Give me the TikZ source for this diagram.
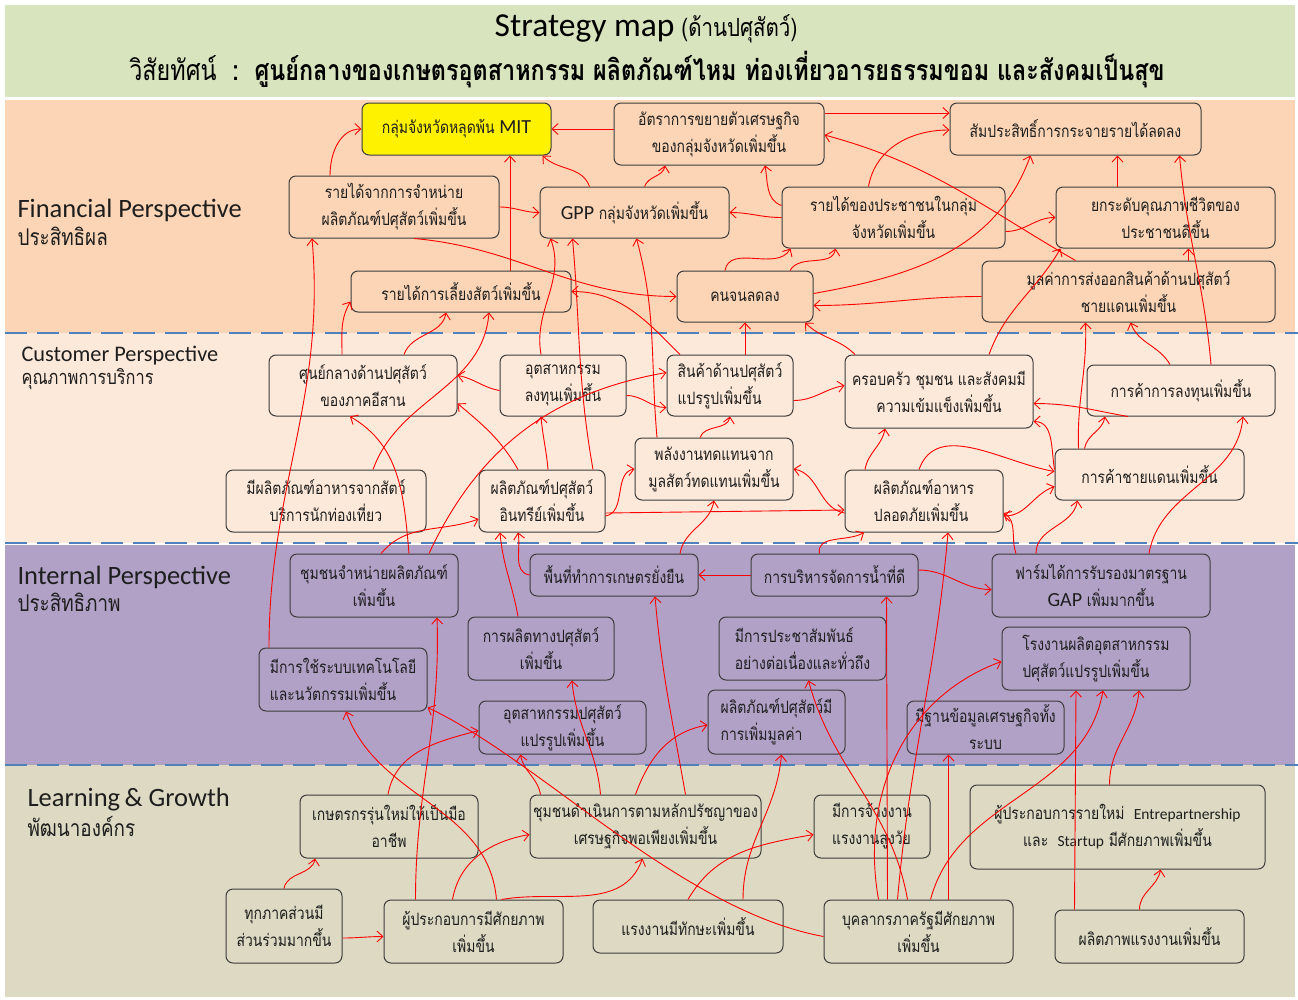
\documentclass[tikz,border=0pt]{standalone}
\usepackage{fontspec}
\setmainfont{Carlito}
\newfontfamily\thai[Script=Thai,FakeStretch=0.82]{Loma}
\newfontfamily\latn{Carlito}
\usetikzlibrary{arrows.meta}

\definecolor{titlefill}{RGB}{215,228,189}
\definecolor{finfill}{RGB}{251,213,181}
\definecolor{custfill}{RGB}{253,233,217}
\definecolor{intfill}{RGB}{178,161,199}
\definecolor{learnfill}{RGB}{221,217,195}
\definecolor{sepblue}{RGB}{79,129,189}
\definecolor{boxline}{RGB}{60,60,60}
\definecolor{boxtext}{RGB}{30,30,30}

\newcommand\latw[1]{{\latn\fontsize{20}{27}\selectfont #1}}
\newcommand\lats[1]{{\latn\fontsize{15.5}{27}\selectfont #1}}

\tikzset{
  box/.style={draw=boxline, line width=1pt, rounded corners=7pt, inner sep=2pt, align=center,
    text=boxtext, font=\thai\fontsize{17}{27}\selectfont},
  arr/.style={red, line width=0.9pt, -{Straight Barb[length=6pt,width=11pt]}},
  arrboth/.style={arr, {Straight Barb[length=6pt,width=11pt]}-{Straight Barb[length=6pt,width=11pt]}},
  sepline/.style={sepblue, line width=2.6pt, dash pattern=on 22pt off 10pt},
  perspective/.style={anchor=west, text=boxtext, align=left},
}

\begin{document}
\begin{tikzpicture}[x=1pt, y=1pt]
  \path[use as bounding box] (0,0) rectangle (1298,-999);

  % bands
  \fill[titlefill] (5,-5) rectangle (1295,-97);
  \fill[finfill] (5,-100) rectangle (1295,-333);
  \fill[custfill] (5,-333) rectangle (1295,-543);
  \fill[intfill] (5,-545) rectangle (1295,-765);
  \fill[learnfill] (5,-765) rectangle (1295,-997);
  \foreach \y in {333, 543, 765} {
    \draw[sepline] (5,-\y) -- (1298,-\y);
  }

  % title
  \node (title) at (646,-29) {{\latn\fontsize{33.5}{36}\selectfont Strategy map}\hspace{7pt}{\thai\fontsize{25}{28}\selectfont (ด้านปศุสัตว์)}};
  \node (vision) at (647,-70) {\thai\fontsize{28.5}{32}\selectfont วิสัยทัศน์\ \ \textbf{:\ \ ศูนย์กลางของเกษตรอุตสาหกรรม ผลิตภัณฑ์ไหม ท่องเที่ยวอารยธรรมขอม และสังคมเป็นสุข}};

  % perspective labels
  \node[perspective] (finlabel) at (14,-222) {{\fontsize{26.5}{32}\selectfont Financial Perspective}\\[4pt]{\thai\fontsize{23}{29}\selectfont ประสิทธิผล}};
  \node[perspective] (custlabel) at (18,-368) {{\fontsize{22.3}{27}\selectfont Customer Perspective}\\[3pt]{\thai\fontsize{20}{27}\selectfont คุณภาพการบริการ}};
  \node[perspective] (intlabel) at (14,-589) {{\fontsize{26.5}{30}\selectfont Internal Perspective}\\[3pt]{\thai\fontsize{23}{29}\selectfont ประสิทธิภาพ}};
  \node[perspective] (learnlabel) at (24,-812) {{\fontsize{26.5}{32}\selectfont Learning\,\& Growth}\\[4pt]{\thai\fontsize{23}{29}\selectfont พัฒนาองค์กร}};

  % financial boxes
  \node[box, fill=yellow, minimum width=189, minimum height=52] (F1) at (456.5,-129) {กลุ่มจังหวัดหลุดพ้น \latw{MIT}};
  \node[box, minimum width=210, minimum height=62] (F2) at (719,-134) {อัตราการขยายตัวเศรษฐกิจ\\ของกลุ่มจังหวัดเพิ่มขึ้น};
  \node[box, minimum width=251, minimum height=52] (F3) at (1075.5,-129) {สัมประสิทธิ์การกระจายรายได้ลดลง};
  \node[box, minimum width=210, minimum height=62] (F4) at (394,-207) {รายได้จากการจำหน่าย\\ผลิตภัณฑ์ปศุสัตว์เพิ่มขึ้น};
  \node[box, minimum width=189, minimum height=51] (F5) at (634.5,-212.5) {\latw{GPP} กลุ่มจังหวัดเพิ่มขึ้น};
  \node[box, minimum width=223, minimum height=61] (F6) at (893.5,-217.5) {รายได้ของประชาชนในกลุ่ม\\จังหวัดเพิ่มขึ้น};
  \node[box, minimum width=219, minimum height=61] (F7) at (1165.5,-217.5) {ยกระดับคุณภาพชีวิตของ\\ประชาชนดีขึ้น};
  \node[box, minimum width=220, minimum height=41] (F8) at (461,-291.5) {รายได้การเลี้ยงสัตว์เพิ่มขึ้น};
  \node[box, minimum width=136, minimum height=51] (F9) at (745,-296.5) {คนจนลดลง};
  \node[box, minimum width=293, minimum height=61] (F10) at (1128.5,-291.5) {มูลค่าการส่งออกสินค้าด้านปศุสัตว์\\ชายแดนเพิ่มขึ้น};

  % customer boxes
  \node[box, minimum width=188, minimum height=61] (C1) at (363,-385.5) {ศูนย์กลางด้านปศุสัตว์\\ของภาคอีสาน};
  \node[box, minimum width=126, minimum height=61] (C2) at (563,-385.5) {อุตสาหกรรม\\ลงทุนเพิ่มขึ้น};
  \node[box, align=left, minimum width=126, minimum height=61] (C3) at (730,-385.5) {สินค้าด้านปศุสัตว์\\แปรรูปเพิ่มขึ้น};
  \node[box, minimum width=188, minimum height=73] (C4) at (939,-391.5) {ครอบครัว ชุมชน และสังคมมี\\ความเข้มแข็งเพิ่มขึ้น};
  \node[box, minimum width=188, minimum height=51] (C5) at (1181,-390.5) {การค้าการลงทุนเพิ่มขึ้น};
  \node[box, minimum width=158, minimum height=62] (C6) at (714,-469) {พลังงานทดแทนจาก\\มูลสัตว์ทดแทนเพิ่มขึ้น};
  \node[box, minimum width=200, minimum height=62] (C7) at (326,-501) {มีผลิตภัณฑ์อาหารจากสัตว์\\บริการนักท่องเที่ยว};
  \node[box, minimum width=126, minimum height=62] (C8) at (542,-501) {ผลิตภัณฑ์ปศุสัตว์\\อินทรีย์เพิ่มขึ้น};
  \node[box, align=left, minimum width=158, minimum height=62] (C9) at (924,-501) {ผลิตภัณฑ์อาหาร\\ปลอดภัยเพิ่มขึ้น};
  \node[box, minimum width=189, minimum height=51] (C10) at (1149.5,-474.5) {การค้าชายแดนเพิ่มขึ้น};

  % internal boxes
  \node[box, minimum width=168, minimum height=63] (I1) at (374,-585.5) {ชุมชนจำหน่ายผลิตภัณฑ์\\เพิ่มขึ้น};
  \node[box, minimum width=168, minimum height=42] (I2) at (614,-575) {พื้นที่ทำการเกษตรยั่งยืน};
  \node[box, minimum width=167, minimum height=42] (I3) at (834.5,-575) {การบริหารจัดการน้ำที่ดี};
  \node[box, minimum width=218, minimum height=63] (I4) at (1101,-585.5) {ฟาร์มได้การรับรองมาตรฐาน\\\latw{GAP} เพิ่มมากขึ้น};
  \node[box, minimum width=146, minimum height=63] (I5) at (541,-648.5) {การผลิตทางปศุสัตว์\\เพิ่มขึ้น};
  \node[box, align=left, minimum width=167, minimum height=63] (I6) at (802.5,-648.5) {มีการประชาสัมพันธ์\\อย่างต่อเนื่องและทั่วถึง};
  \node[box, align=left, minimum width=188, minimum height=63] (I7) at (1096,-658.5) {โรงงานผลิตอุตสาหกรรม\\ปศุสัตว์แปรรูปเพิ่มขึ้น};
  \node[box, align=left, minimum width=168, minimum height=63] (I8) at (343,-679.5) {มีการใช้ระบบเทคโนโลยี\\และนวัตกรรมเพิ่มขึ้น};
  \node[box, minimum width=167, minimum height=53] (I9) at (562.5,-727.5) {อุตสาหกรรมปศุสัตว์\\แปรรูปเพิ่มขึ้น};
  \node[box, align=left, minimum width=137, minimum height=64] (I10) at (776.5,-722) {ผลิตภัณฑ์ปศุสัตว์มี\\การเพิ่มมูลค่า};
  \node[box, minimum width=157, minimum height=53] (I11) at (985.5,-727.5) {มีฐานข้อมูลเศรษฐกิจทั้ง\\ระบบ};

  % learning boxes
  \node[box, minimum width=178, minimum height=63] (L1) at (389,-826.5) {เกษตรกรรุ่นใหม่ให้เป็นมือ\\อาชีพ};
  \node[box, minimum width=231, minimum height=63] (L2) at (645.5,-826.5) {ชุมชนดำเนินการตามหลักปรัชญาของ\\เศรษฐกิจพอเพียงเพิ่มขึ้น};
  \node[box, align=left, minimum width=116, minimum height=63] (L3) at (872,-826.5) {มีการจ้างงาน\\แรงงานสูงวัย};
  \node[box, minimum width=295, minimum height=84] (L4) at (1117.5,-827) {ผู้ประกอบการรายใหม่\ \ \lats{Entrepartnership}\\และ\ \ \lats{Startup} มีศักยภาพเพิ่มขึ้น};
  \node[box, minimum width=116, minimum height=74] (L5) at (284,-926) {ทุกภาคส่วนมี\\ส่วนร่วมมากขึ้น};
  \node[box, minimum width=179, minimum height=63] (L6) at (473.5,-931.5) {ผู้ประกอบการมีศักยภาพ\\เพิ่มขึ้น};
  \node[box, minimum width=190, minimum height=53] (L7) at (688,-926.5) {แรงงานมีทักษะเพิ่มขึ้น};
  \node[box, minimum width=189, minimum height=63] (L8) at (918.5,-931.5) {บุคลากรภาครัฐมีศักยภาพ\\เพิ่มขึ้น};
  \node[box, minimum width=189, minimum height=53] (L9) at (1149.5,-936.5) {ผลิตภาพแรงงานเพิ่มขึ้น};

  % financial links
  \draw[arr] (F2.west |- F1.east) -- (F1.east);
  \draw[arr] ([xshift=-64]F4.north) to[out=90,in=180] (F1.west);
  \draw[arr] (F4.east) to[out=0,in=180] (F5.west);
  \draw[arr] ([xshift=49]F8.north) -- ([xshift=53.5]F1.south);
  \draw[arr] ([xshift=-45]F5.north) to[out=110,in=-45] ([xshift=86]F1.south);
  \draw[arr] ([xshift=10]F5.north) to[out=70,in=-100] ([xshift=-54]F2.south);
  \draw[arr] (F6.west) to[out=180,in=0] (F5.east);
  \draw[arr] ([yshift=12]F6.west) to[out=160,in=-80] ([xshift=46]F2.south);
  \draw[arr] ([yshift=21]F2.east) -- ([yshift=16]F3.west);
  \draw[arr] ([xshift=-25]F6.north) to[out=80,in=180] ([yshift=-1]F3.west);
  \draw[arr] ([xshift=-53]F10.north) to[out=150,in=-15] ([yshift=-1]F2.east);
  \draw[arr] ([yshift=3]F9.east) to[out=10,in=-110] ([xshift=-45]F3.south);
  \draw[arr] ([yshift=-14]F6.east) to[out=0,in=180] (F7.west);
  \draw[arr] ([xshift=-48]F7.north) -- ([xshift=42]F3.south);
  \draw[arr] ([xshift=30]C5.north) to[out=95,in=-85] ([xshift=104]F3.south);
  \draw[arr] ([yshift=-5]F10.west) to[out=180,in=0] ([yshift=-9]F9.east);
  \draw[arr] ([xshift=50]C4.north) to[out=70,in=-120] ([xshift=-105]F7.south);
  \draw[arr] ([xshift=-20]F9.north) to[out=80,in=-120] ([xshift=-103]F6.south);
  \draw[arr] ([xshift=45]F9.north) to[out=60,in=-100] ([xshift=-58]F6.south);
  \draw[arr] ([xshift=20]F4.south) to[out=-5,in=180] (F9.west);
  \draw[arr] ([xshift=60]F10.north) -- ([xshift=23]F7.south);

  % customer to financial
  \draw[arr] ([xshift=-21]C1.north) to[out=90,in=-120] ([yshift=-10]F8.west);
  \draw[arr] ([xshift=41]C1.north) to[out=70,in=-100] ([xshift=-15]F8.south);
  \draw[arr] ([xshift=47]C7.north) to[out=70,in=-95] ([xshift=28]F8.south);
  \draw[arr] ([xshift=-22]C2.north) to[out=100,in=-70] ([xshift=-84]F5.south);
  \draw[arr] ([xshift=51]C8.north) to[out=100,in=-85] ([xshift=-62]F5.south);
  \draw[arr] ([xshift=-57]C6.north) to[out=95,in=-75] ([xshift=2]F5.south);
  \draw[arr] ([xshift=-50]C3.north) to[out=135,in=0] (F8.east);
  \draw[arr] ([xshift=15]C3.north) -- (F9.south);
  \draw[arr] ([xshift=-84]C4.north) to[out=135,in=-45] ([xshift=60]F9.south);
  \draw[arr] ([xshift=-11]C5.north) to[out=120,in=-70] ([xshift=2]F10.south);
  \draw[arr] ([xshift=-71]C10.north) to[out=92,in=-88] ([xshift=-43]F10.south);

  % customer links
  \draw[arr] ([yshift=-5]C2.west) to[out=170,in=-10] ([yshift=10]C1.east);
  \draw[arr] ([xshift=-24]C8.north) to[out=120,in=-40] ([yshift=-18]C1.east);
  \draw[arr] ([xshift=6]C8.north) to[out=95,in=-85] ([xshift=-22]C2.south);
  \draw[arr] ([xshift=35]I1.north) to[out=95,in=-30] ([xshift=-13]C1.south);
  \draw[arr] ([xshift=7]I1.north) to[out=50,in=200] ([yshift=-18]C8.west);
  \draw[arr] ([xshift=55]I1.north) to[out=65,in=190] ([yshift=13]C3.west);
  \draw[arr] ([yshift=-10]C2.east) to[out=0,in=180] ([yshift=-22]C3.west);
  \draw[arr] ([yshift=-15]C3.east) to[out=0,in=190] ([yshift=6]C4.west);
  \draw[arr] ([xshift=-59]C9.north) to[out=80,in=-100] ([xshift=-54]C4.south);
  \draw[arr] ([xshift=-53]C5.south) to[out=170,in=0] ([yshift=-12]C4.east);
  \draw[arr] ([yshift=5]C10.west) to[out=100,in=0] ([yshift=-30]C4.east);
  \draw[arr] ([xshift=-65]C10.north) to[out=80,in=-100] ([xshift=-76]C5.south);
  \draw[arr] ([xshift=48]I4.north) to[out=80,in=-95] ([xshift=62]C5.south);
  \draw[arr] ([yshift=-15]C8.east) to[out=10,in=190] (C6.west);
  \draw[arr] ([yshift=-12]C9.west) to[out=170,in=-10] (C6.east);
  \draw[arr] ([xshift=66]I2.north) to[out=80,in=-100] (C6.south);
  \draw[arr] ([xshift=-14]C6.north) to[out=70,in=-100] (C3.south);
  \draw[arr] ([yshift=-12]C8.east) -- ([yshift=-9]C9.west);
  \draw[arrboth] ([yshift=-15]C9.east) to[out=0,in=200] ([yshift=-12]C10.west);
  \draw[arr] ([xshift=-85]I4.north) to[out=110,in=-30] ([yshift=-12]C9.east);
  \draw[arr] ([xshift=-5]C9.north) to[out=70,in=170] ([yshift=3]C10.west);
  \draw[arr] ([xshift=-65]I4.north) to[out=90,in=-100] ([xshift=-72]C10.south);
  \draw[arr] ([xshift=-23]I5.north) to[out=100,in=-85] ([xshift=-42]C8.south);
  \draw[arr] (I2.west) to[out=170,in=-80] ([xshift=-24]C8.south);
  \draw[arr] ([xshift=-15]I3.north) to[out=100,in=-150] ([xshift=-60]C9.south);
  \draw[arr] ([xshift=-21]L8.north) to[out=85,in=-95] ([xshift=24]C9.south);
  \draw[arr] ([xshift=-74]I8.north) to[out=90,in=-85] ([xshift=-82]F4.south);

  % internal links
  \draw[arr] (I3.west) -- (I2.east);
  \draw[arr] ([yshift=5]I3.east) to[out=0,in=180] ([yshift=-4]I4.west);
  \draw[arr] ([xshift=40]L2.north) to[out=100,in=-85] ([xshift=41]I2.south);
  \draw[arr] ([xshift=-31]L8.north) -- ([xshift=52]I3.south);
  \draw[arr] ([xshift=-11]L8.north) to[out=100,in=-75] ([xshift=6]I6.south);
  \draw[arr] ([xshift=12]L8.north) to[out=75,in=-100] ([xshift=7]I7.south);
  \draw[arr] ([xshift=30]L8.north) -- ([xshift=-37]I11.south);
  \draw[arr] ([xshift=-40]L8.north) to[out=100,in=200] ([yshift=-3]I7.west);
  \draw[arr] ([xshift=-75]L9.north) -- ([xshift=-20]I7.south);
  \draw[arr] ([xshift=-8]L4.north) to[out=90,in=-95] ([xshift=43]I7.south);
  \draw[arr] ([xshift=-1]L1.north) to[out=80,in=195] ([yshift=-3]I9.west);
  \draw[arr] ([xshift=-58]L6.north) to[out=90,in=-88] ([xshift=63]I1.south);
  \draw[arr] ([xshift=23]L6.north) to[out=95,in=-70] ([xshift=3]I8.south);
  \draw[arr] ([yshift=-5]L8.west) .. controls (680,-910) and (540,-760) .. ([yshift=-28]I8.east);
  \draw[arr] ([xshift=-10]L2.north) to[out=70,in=190] ([yshift=-3]I10.west);
  \draw[arr] ([xshift=55]L7.north) to[out=90,in=-95] ([xshift=5]I10.south);
  \draw[arr] ([xshift=-105]L2.north) to[out=100,in=-80] ([xshift=-42]I9.south);
  \draw[arr] ([xshift=-45]L2.north) to[out=95,in=-85] ([xshift=31]I5.south);

  % learning links
  \draw[arr] ([xshift=-10]L9.north) to[out=90,in=-100] ([xshift=43]L4.south);
  \draw[arr] (L7.north) to[out=60,in=190] ([yshift=-8]L3.west);
  \draw[arr] (L5.north) to[out=80,in=-100] ([xshift=-74]L1.south);
  \draw[arr] ([yshift=-12]L5.east) to[out=0,in=180] ([yshift=-5]L6.west);
  \draw[arr] ([xshift=-21]L6.north) to[out=80,in=190] ([yshift=-8]L2.west);
  \draw[arr] ([xshift=28]L6.north) to[out=10,in=-110] ([xshift=-3]L2.south);
\end{tikzpicture}
\end{document}
